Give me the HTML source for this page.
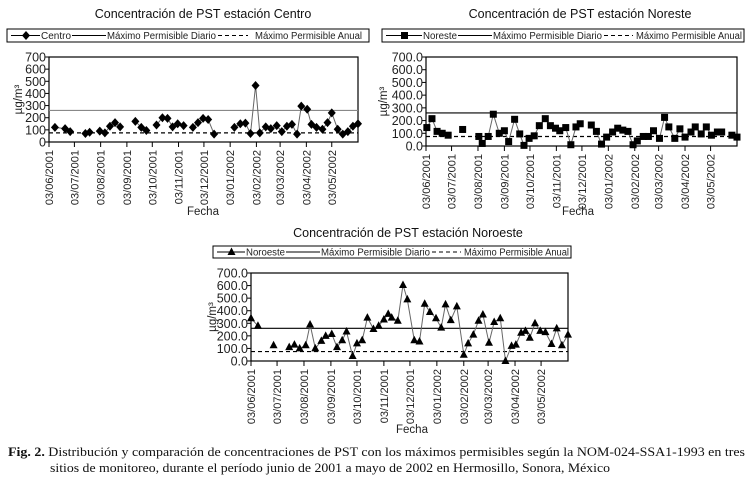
<!DOCTYPE html>
<html><head><meta charset="utf-8"><style>
html,body{margin:0;padding:0;background:#fff;}
svg{display:block;font-family:"Liberation Sans",sans-serif;}
</style></head><body>
<svg id="fig" width="750" height="479" viewBox="0 0 750 479"></svg>
<script>
const monthLabels=["03/06/2001","03/07/2001","03/08/2001","03/09/2001","03/10/2001","03/11/2001","03/12/2001","03/01/2002","03/02/2002","03/03/2002","03/04/2002","03/05/2002"];
const monthDays=[0,30,61,92,122,153,183,214,245,273,304,334];
const limitDaily=260;
const limitAnnual=75;
const yTicks=[0,100,200,300,400,500,600,700];
const centroDays=[7,19,25,null,43,48,null,60,66,72,78,84,null,102,109,115,null,127,134,140,146,152,159,null,170,176,182,188,195,null,219,226,232,238,244,249,256,262,269,275,281,287,293,298,305,310,316,323,329,334,341,347,353,359,365];
const centroVals=[120,110,85,null,70,80,null,90,75,130,160,125,null,170,120,95,null,140,200,195,125,150,135,null,120,160,195,185,65,null,120,150,155,70,465,75,125,110,135,85,130,145,65,295,270,145,120,105,160,240,105,65,85,130,150];
const norDays=[1,7,13,19,26,null,43,null,62,66,73,79,86,92,97,104,110,115,121,127,133,140,146,152,157,164,170,176,181,null,194,200,206,212,219,225,231,237,243,248,255,261,267,274,280,285,292,298,304,311,316,323,329,335,342,347,null,359,365];
const norVals=[145,215,115,100,85,null,130,null,75,20,75,250,100,120,35,210,95,5,60,80,160,215,160,140,120,145,10,150,175,null,165,115,15,70,110,140,125,115,10,40,75,75,120,60,225,150,60,135,70,110,150,95,150,85,110,110,null,85,70];
const noroDays=[0,8,null,26,null,44,50,56,63,68,74,81,86,93,99,105,110,117,122,128,134,141,147,153,158,162,169,175,180,188,194,200,206,213,219,224,230,237,245,250,256,262,267,274,280,287,293,300,305,311,316,321,327,333,339,346,352,358,365];
const noroVals=[340,280,null,125,null,110,130,100,125,290,100,160,200,215,110,165,235,40,140,165,345,255,280,330,375,345,320,605,490,165,155,455,390,340,265,450,325,435,50,140,210,320,370,145,310,340,0,120,130,225,240,185,300,240,230,135,260,125,210];

const NS="http://www.w3.org/2000/svg";
const svg=document.getElementById('fig');
function mk(tag,attrs,parent,text){const e=document.createElementNS(NS,tag);for(const k in attrs)e.setAttribute(k,attrs[k]);if(text!==undefined)e.textContent=text;(parent||svg).appendChild(e);return e;}

function chart(cfg){
  const g=mk('g',{});
  
  
  const {x0,x1,yTop,yBot}=cfg;
  const xs=d=>x0+d/365*(x1-x0);
  const ys=v=>yBot-v/700*(yBot-yTop);
  const t=mk('text',{x:cfg.titleX,y:cfg.titleY,'text-anchor':'middle','font-size':12.5,fill:'#111'},g,cfg.title);
  
  
  const lg=mk('g',{},g);
  
  
  const L=cfg.leg, P=cfg.lp;
  mk('rect',{x:L.x,y:L.y,width:L.w,height:L.h,fill:'#fff',stroke:'#000','stroke-width':1},lg);
  const ly=L.y+L.h/2;
  mk('line',{x1:L.x+4,x2:L.x+P[0]-1,y1:ly,y2:ly,stroke:'#000'},lg);
  marker(lg,cfg.marker,L.x+(P[0]+4)/2,ly);
  mk('text',{x:L.x+P[0],y:ly+3.5,'font-size':10,fill:'#222',textLength:P[1]-P[0],lengthAdjust:'spacingAndGlyphs'},lg,cfg.label);
  mk('line',{x1:L.x+P[1]+1,x2:L.x+P[2],y1:ly,y2:ly,stroke:'#000'},lg);
  mk('text',{x:L.x+P[2]+1,y:ly+3.5,'font-size':10,fill:'#222',textLength:P[3]-P[2]-1,lengthAdjust:'spacingAndGlyphs'},lg,'Máximo Permisible Diario');
  mk('line',{x1:L.x+P[3]+2,x2:L.x+P[4],y1:ly,y2:ly,stroke:'#000','stroke-dasharray':'4,3'},lg);
  mk('text',{x:L.x+P[5],y:ly+3.5,'font-size':10,fill:'#222',textLength:P[6]-P[5],lengthAdjust:'spacingAndGlyphs'},lg,'Máximo Permisible Anual');
  const fr=mk('rect',{x:x0,y:yTop,width:x1-x0,height:yBot-yTop,fill:'none',stroke:'#000','stroke-width':1.2},g);
  
  
  yTicks.forEach(v=>{
    mk('line',{x1:x0-4,x2:x0,y1:ys(v),y2:ys(v),stroke:'#000'},g);
    const tt=mk('text',{x:x0-3,y:ys(v)+4.5,'text-anchor':'end','font-size':12.5,fill:'#222'},g,cfg.dec?v.toFixed(1):String(v));
    
    
  });
  monthDays.forEach((d,i)=>{
    const x=xs(d);
    mk('line',{x1:x,x2:x,y1:yBot,y2:yBot+5,stroke:'#000'},g);
    const tt=mk('text',{x:0,y:0,transform:`translate(${x+4},${yBot+8}) rotate(-90)`,'text-anchor':'end','font-size':11,fill:'#222'},g,monthLabels[i]);
    
    
  });
  const xt=mk('text',{x:cfg.fechaX,y:cfg.fechaY,'text-anchor':'middle','font-size':11.5,fill:'#222'},g,'Fecha');
  
  
  const yt=mk('text',{x:0,y:0,transform:`translate(${cfg.ytX},${(yTop+yBot)/2}) rotate(-90)`,'text-anchor':'middle','font-size':11.5,fill:'#222'},g,'µg/m³');
  
  
  const ld=mk('line',{x1:x0,x2:x1,y1:ys(limitDaily),y2:ys(limitDaily),stroke:cfg.dailyColor,'stroke-width':1.2},g);
  
  
  const la=mk('line',{x1:x0,x2:x1,y1:ys(limitAnnual),y2:ys(limitAnnual),stroke:'#000','stroke-width':1.2,'stroke-dasharray':'4,3'},g);
  
  
  let d='',pen=false;
  cfg.days.forEach((dd,i)=>{const v=cfg.vals[i];if(dd===null||v===null){pen=false;return;}d+=(pen?'L':'M')+xs(dd).toFixed(1)+','+ys(v).toFixed(1);pen=true;});
  const p=mk('path',{d:d,fill:'none',stroke:'#666','stroke-width':1},g);
  
  
  cfg.days.forEach((dd,i)=>{const v=cfg.vals[i];if(dd===null||v===null)return;
    const m=marker(g,cfg.marker,xs(dd),ys(v));
    
    
  });
}
function marker(parent,type,x,y){
  if(type==='diamond')return mk('path',{d:`M${x},${y-4.5}L${x+4},${y}L${x},${y+4.5}L${x-4},${y}Z`,fill:'#000'},parent);
  if(type==='square')return mk('rect',{x:x-3.5,y:y-3.5,width:7,height:7,fill:'#000'},parent);
  return mk('path',{d:`M${x},${y-4.5}L${x+4},${y+3}L${x-4},${y+3}Z`,fill:'#000'},parent);
}
chart({name:'centro',title:'Concentración de PST estación Centro',titleX:203,titleY:18,label:'Centro',marker:'diamond',
  leg:{x:7,y:29,w:362,h:13},lp:[34,64,99,209,241,248,355],x0:49,x1:358,yTop:57,yBot:142,dec:false,
  fechaX:203,fechaY:215,ytX:22,dailyColor:'#888',days:centroDays,vals:centroVals});
chart({name:'noreste',title:'Concentración de PST estación Noreste',titleX:580,titleY:18,label:'Noreste',marker:'square',
  leg:{x:382,y:29,w:362,h:13},lp:[41,75,110,220,251,254,360],x0:426,x1:737,yTop:57,yBot:146,dec:true,
  fechaX:578,fechaY:215,ytX:387,dailyColor:'#000',days:norDays,vals:norVals});
chart({name:'noroeste',title:'Concentración de PST estación Noroeste',titleX:408,titleY:237,label:'Noroeste',marker:'triangle',
  leg:{x:213,y:246,w:358,h:12},lp:[33,72,107,217,248,251,356],x0:251,x1:568,yTop:273,yBot:361,dec:true,
  fechaX:412,fechaY:433,ytX:216,dailyColor:'#000',days:noroDays,vals:noroVals});
const c1=mk('text',{x:8,y:456,'font-family':'Liberation Serif,serif','font-size':12.5,fill:'#111',textLength:737,lengthAdjust:'spacingAndGlyphs'});


mk('tspan',{'font-weight':'bold'},c1,'Fig. 2.');
mk('tspan',{},c1,'  Distribución y comparación de concentraciones de PST con los máximos permisibles según la NOM-024-SSA1-1993 en tres');
const c2=mk('text',{x:50,y:472,'font-family':'Liberation Serif,serif','font-size':12.5,fill:'#111',textLength:560,lengthAdjust:'spacingAndGlyphs'},svg,'sitios de monitoreo, durante el período junio de 2001 a mayo de 2002 en Hermosillo, Sonora, México');


</script>
</body></html>
